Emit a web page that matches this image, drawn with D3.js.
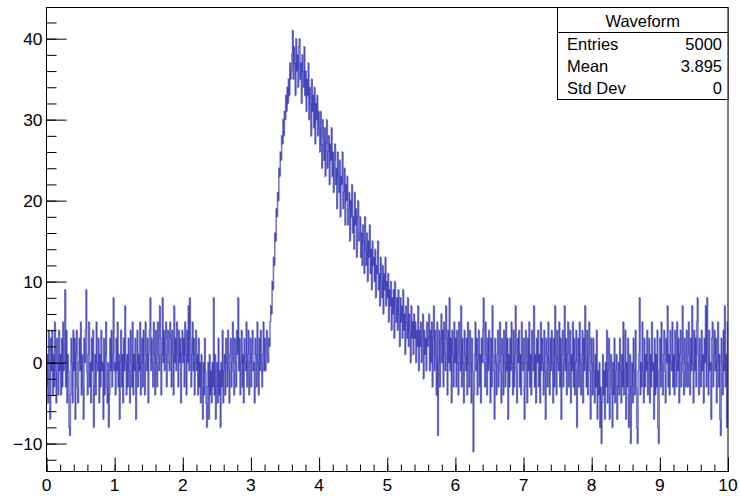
<!DOCTYPE html>
<html>
<head>
<meta charset="utf-8">
<script src="https://cdn.jsdelivr.net/npm/d3@7"></script>
<style>
  body { margin: 0; background: #fff; }
  text { font-family: "Liberation Sans", Arial, Helvetica, sans-serif; }
</style>
</head>
<body>
<svg id="chart" width="740" height="496"></svg>
<script>
// Axis ranges and tick labels
const xDomain = [0, 10];
const yDomain = [-13.45, 43.85];
const xMajorTicks = [0, 1, 2, 3, 4, 5, 6, 7, 8, 9, 10];
const yMajorTicks = [-10, 0, 10, 20, 30, 40];
const xMinorStep = 0.2;
const yMinorStep = 2;

// Statistics box
const statsTitle = "Waveform";
const statsNames = ["Entries", "Mean", "Std Dev"];
const statsValues = ["5000", "3.895", "0"];

// Sampled waveform, one value per bin (0.01 wide), 0 .. 10
const binContents = [
  -3, 1, -5, 4, 0, -7, 3, -1, 4, -4, 1, -3, 5, -1, -5, 3, 0, -4, 4, -1,
  1, -4, 3, -3, 5, -1, 0, 9, -3, 4, -5, 1, -1, -8, -9, -4, 3, 0, -5, 4,
  -1, 3, -7, 1, 4, -3, -5, 0, 3, -1, 5, -4, 1, -3, -7, 3, 0, 4, 9, -1,
  -4, 1, 5, -3, 0, -5, 3, -1, 4, -8, -3, 1, -4, 5, 0, -1, 3, -5, 1, -3,
  4, -1, 0, -7, 3, -4, 1, 5, -3, -5, 0, -8, -4, 3, -1, 4, -3, 1, 8, -1,
  0, -4, 3, -1, 5, -3, 1, -7, 0, 4, -3, 1, -5, 3, -1, 7, 0, -4, 1, -3,
  3, -1, -5, 4, 0, -3, 5, -4, 1, -1, 3, -7, 0, 4, -3, 1, -1, 5, -4, 0,
  3, -3, 4, 0, -4, 5, 1, -1, 3, -5, 1, 4, 8, -1, 3, 0, -3, 5, 1, -4,
  4, 0, -3, 5, 1, -1, 7, 3, -4, 1, 8, 0, 4, -1, 3, 5, -3, 1, 4, 0,
  -1, 5, 3, -3, 4, 1, -4, 7, 0, 3, -1, 5, 1, -3, 4, 0, 3, -5, 1, 4,
  0, 3, -3, 5, 1, -4, 4, 0, 7, -1, 8, 3, -3, 1, 5, -1, 3, -4, 0, 4,
  -1, 1, -4, 3, -3, 0, -5, 1, -3, -7, 0, -4, 3, -1, -5, -8, -3, 0, -7, 1,
  -4, -1, -5, 0, -3, 8, -4, 1, -7, -3, 0, -5, 3, -4, -1, -8, 0, -3, 4, -5,
  -1, 1, -4, 3, 0, -3, 4, -1, -5, 1, 3, -3, 0, 5, -1, -4, 3, 0, -3, 4,
  1, 8, -1, 3, -4, 0, 4, -3, 1, -5, 3, 0, -1, 5, -3, 1, 4, -4, 0, 3,
  -3, 1, 4, -1, 0, -5, 3, 1, -3, 5, 0, -4, 3, -1, 4, 0, -3, 1, 5, -1,
  3, -1, 0, 4, 1, 0, 3, 2, 5, 7, 6, 10, 9, 13, 12, 16, 15, 19, 18, 21,
  20, 24, 23, 26, 25, 28, 27, 30, 28, 31, 30, 33, 31, 34, 32, 35, 33, 37, 35, 36,
  38, 41, 35, 39, 37, 33, 40, 36, 38, 34, 39, 40, 35, 37, 32, 38, 36, 34, 39, 33,
  36, 31, 35, 33, 37, 30, 34, 32, 28, 35, 31, 33, 29, 34, 27, 32, 30, 33, 28, 31,
  29, 26, 31, 27, 24, 30, 28, 25, 29, 23, 27, 30, 24, 26, 28, 22, 27, 25, 29, 23,
  26, 21, 25, 27, 22, 24, 19, 26, 23, 21, 25, 18, 23, 22, 26, 19, 21, 24, 17, 22,
  20, 23, 17, 19, 21, 15, 20, 18, 22, 16, 18, 14, 21, 17, 19, 13, 18, 20, 15, 16,
  18, 13, 16, 12, 17, 15, 11, 18, 14, 12, 16, 10, 15, 13, 17, 11, 14, 9, 15, 12,
  13, 10, 14, 8, 12, 11, 15, 9, 11, 7, 13, 10, 8, 12, 6, 11, 9, 13, 7, 10,
  8, 11, 5, 9, 7, 10, 4, 8, 6, 9, 3, 10, 7, 5, 8, 4, 9, 6, 2, 8,
  5, 7, 3, 9, 4, 6, 1, 7, 5, 3, 8, 2, 6, 4, 0, 7, 3, 5, 1, 6,
  3, 5, 0, 4, 2, 7, -1, 4, 2, 5, 0, 3, 6, -2, 4, 1, 3, -1, 5, 2,
  3, 6, -1, 4, 0, 5, -3, 3, 7, -1, 4, 1, -4, 5, -9, 0, 4, -3, 3, 6,
  0, 4, -3, 5, 1, -1, 7, 3, -4, 4, 0, 8, -1, 3, -5, 4, 1, -3, 5, 0,
  3, -3, 4, 0, -4, 5, 1, -1, 7, -3, 3, 0, -5, 4, 1, -1, 3, -4, 5, 0,
  -3, 4, 0, -5, 3, -1, -11, -4, 1, 5, -1, 3, -4, 0, 4, -3, 1, -5, 3, 0,
  4, 8, 0, -3, 5, 1, -4, 3, -1, 4, 0, -5, 3, -3, 7, 1, -1, -7, 3, 0,
  -4, 1, 4, -3, 0, 5, -1, -5, 3, 1, -4, 4, 0, -3, 5, -1, 3, -7, 1, -3,
  3, -1, 5, 0, -4, 4, -3, 1, 7, -1, -5, 3, 0, 4, -3, 1, -4, 5, 0, -1,
  3, -7, -3, 4, 0, -5, 3, -1, 5, -3, 1, -4, 4, 0, -1, 7, -3, 1, -5, 3,
  0, 4, -3, 1, -5, 5, -1, 3, 0, -4, 4, -1, -7, 3, 1, -3, 5, 0, -4, 3,
  -1, 4, 0, -5, 3, -3, 7, 1, -4, 4, 0, -1, 5, -3, 3, -7, 1, 4, -3, 0,
  7, -1, 3, -4, 1, 5, -3, 0, 4, -5, 1, -1, 5, -3, 3, -4, 0, 4, -8, -1,
  3, -3, 5, 0, -4, 1, 4, -5, 3, -1, 7, 0, -3, 4, -4, 1, 5, -1, -7, 3,
  0, -4, 3, -1, -5, 1, -3, 4, -7, -1, -4, 0, -8, -3, -10, -5, 1, -4, -1, -7,
  0, -3, 4, -5, -1, 3, -7, -4, 1, -3, -8, 0, -4, 3, -5, -1, 1, -7, -3, 0,
  -4, 3, -1, -5, 1, -3, 5, -4, -1, 4, -7, 0, -3, 3, -8, -4, 1, -10, -3, 0,
  -5, 3, -1, -4, 4, -3, -8, -10, -1, 1, 8, -4, 0, -3, 5, -1, -5, 3, -3, 1,
  -1, 4, -4, 0, 3, -5, 1, -3, 5, -1, 0, -7, 3, -4, 1, -3, 4, -8, -10, -1,
  3, -3, 5, 0, -4, 1, 4, -1, -5, 3, 0, 7, -3, 1, -4, 4, 0, -1, 5, -3,
  1, -4, 4, 0, -3, 5, -1, 3, -5, 1, 4, -3, 0, 7, -1, -4, 3, 0, -3, 4,
  0, -3, 5, 1, -4, 3, -1, 7, 0, -5, 4, -1, 3, -3, 5, 8, 1, -4, 3, 0,
  -3, 4, -1, 1, -5, 3, 0, 7, -3, 8, 1, -4, 4, -1, 0, -7, 3, 5, -3, 1,
  4, -1, 3, -5, 0, 5, -3, 1, -7, -9, 3, 0, -4, 4, -1, 7, -3, 1, -8, 5
];

const W = 740, H = 496;
const frame = { left: 46.5, right: 728, top: 7.5, bottom: 471.5 };

const svg = d3.select("#chart");
svg.append("rect").attr("width", W).attr("height", H).attr("fill", "#fff");

const x = d3.scaleLinear().domain(xDomain).range([frame.left, frame.right]);
const y = d3.scaleLinear().domain(yDomain).range([frame.bottom, frame.top]);

// Histogram drawn as a step outline; each bin is its own segment so that
// overlapping translucent strokes build up where the trace is dense.
const nBins = binContents.length;
const binW = (xDomain[1] - xDomain[0]) / nBins;
const plot = svg.append("g");
plot.selectAll("path.bin")
  .data(binContents)
  .join("path")
  .attr("class", "bin")
  .attr("d", (v, i) => {
    const x0 = x(xDomain[0] + i * binW), x1 = x(xDomain[0] + (i + 1) * binW);
    const prev = i > 0 ? binContents[i - 1] : v;
    return `M${x0},${y(prev)}V${y(v)}H${x1}`;
  })
  .attr("fill", "none")
  .attr("stroke", "#2a2aae")
  .attr("stroke-opacity", 0.62)
  .attr("stroke-width", 1.6);

// Frame
svg.append("rect")
  .attr("x", frame.left).attr("y", frame.top)
  .attr("width", frame.right - frame.left).attr("height", frame.bottom - frame.top)
  .attr("fill", "none").attr("stroke", "#000").attr("stroke-width", 1);

// X axis (ticks inside the frame, labels below)
const xMinor = d3.range(xDomain[0], xDomain[1] + 1e-9, xMinorStep);
const xTickLen = 14, xMinorLen = 7;
const xAxisG = svg.append("g").attr("transform", `translate(0,${frame.bottom})`);
xAxisG.call(d3.axisTop(x).tickValues(xMinor).tickSize(xMinorLen).tickFormat(""))
  .call(g => g.select(".domain").remove());
xAxisG.append("g")
  .call(d3.axisTop(x).tickValues(xMajorTicks).tickSize(xTickLen).tickFormat(""))
  .call(g => g.select(".domain").remove());
xAxisG.selectAll("line").attr("stroke", "#000");
svg.append("g").selectAll("text")
  .data(xMajorTicks).join("text")
  .attr("x", d => x(d)).attr("y", 491)
  .attr("text-anchor", "middle")
  .attr("font-size", 17.4)
  .attr("fill", "#000")
  .text(d => d);

// Y axis
const yMinor = d3.range(-12, 43, yMinorStep);
const yTickLen = 20, yMinorLen = 10;
const yAxisG = svg.append("g").attr("transform", `translate(${frame.left},0)`);
yAxisG.call(d3.axisRight(y).tickValues(yMinor).tickSize(yMinorLen).tickFormat(""))
  .call(g => g.select(".domain").remove());
yAxisG.append("g")
  .call(d3.axisRight(y).tickValues(yMajorTicks).tickSize(yTickLen).tickFormat(""))
  .call(g => g.select(".domain").remove());
yAxisG.selectAll("line").attr("stroke", "#000");
svg.append("g").selectAll("text")
  .data(yMajorTicks).join("text")
  .attr("x", 42.5).attr("y", d => y(d))
  .attr("dy", "0.36em")
  .attr("text-anchor", "end")
  .attr("font-size", 17.4)
  .attr("fill", "#000")
  .text(d => d < 0 ? "\u2212" + Math.abs(d) : d);

// Statistics box
const box = { left: 557.5, right: 728, top: 7.5, bottom: 99.5, sep: 32.5 };
const sb = svg.append("g");
sb.append("rect")
  .attr("x", box.left).attr("y", box.top)
  .attr("width", box.right - box.left).attr("height", box.bottom - box.top)
  .attr("fill", "#fff").attr("stroke", "#000").attr("stroke-width", 1);
sb.append("line")
  .attr("x1", box.left).attr("x2", box.right)
  .attr("y1", box.sep).attr("y2", box.sep)
  .attr("stroke", "#000");
sb.append("text")
  .attr("x", (box.left + box.right) / 2).attr("y", 26.5)
  .attr("text-anchor", "middle").attr("font-size", 16.5)
  .text(statsTitle);
const rowH = (box.bottom - box.sep) / statsNames.length;
statsNames.forEach((name, i) => {
  const cy = box.sep + rowH * (i + 0.5);
  sb.append("text").attr("x", 567).attr("y", cy).attr("dy", "0.36em")
    .attr("font-size", 16.5).text(name);
  sb.append("text").attr("x", 722).attr("y", cy).attr("dy", "0.36em")
    .attr("text-anchor", "end").attr("font-size", 16.5).text(statsValues[i]);
});
</script>
</body>
</html>
